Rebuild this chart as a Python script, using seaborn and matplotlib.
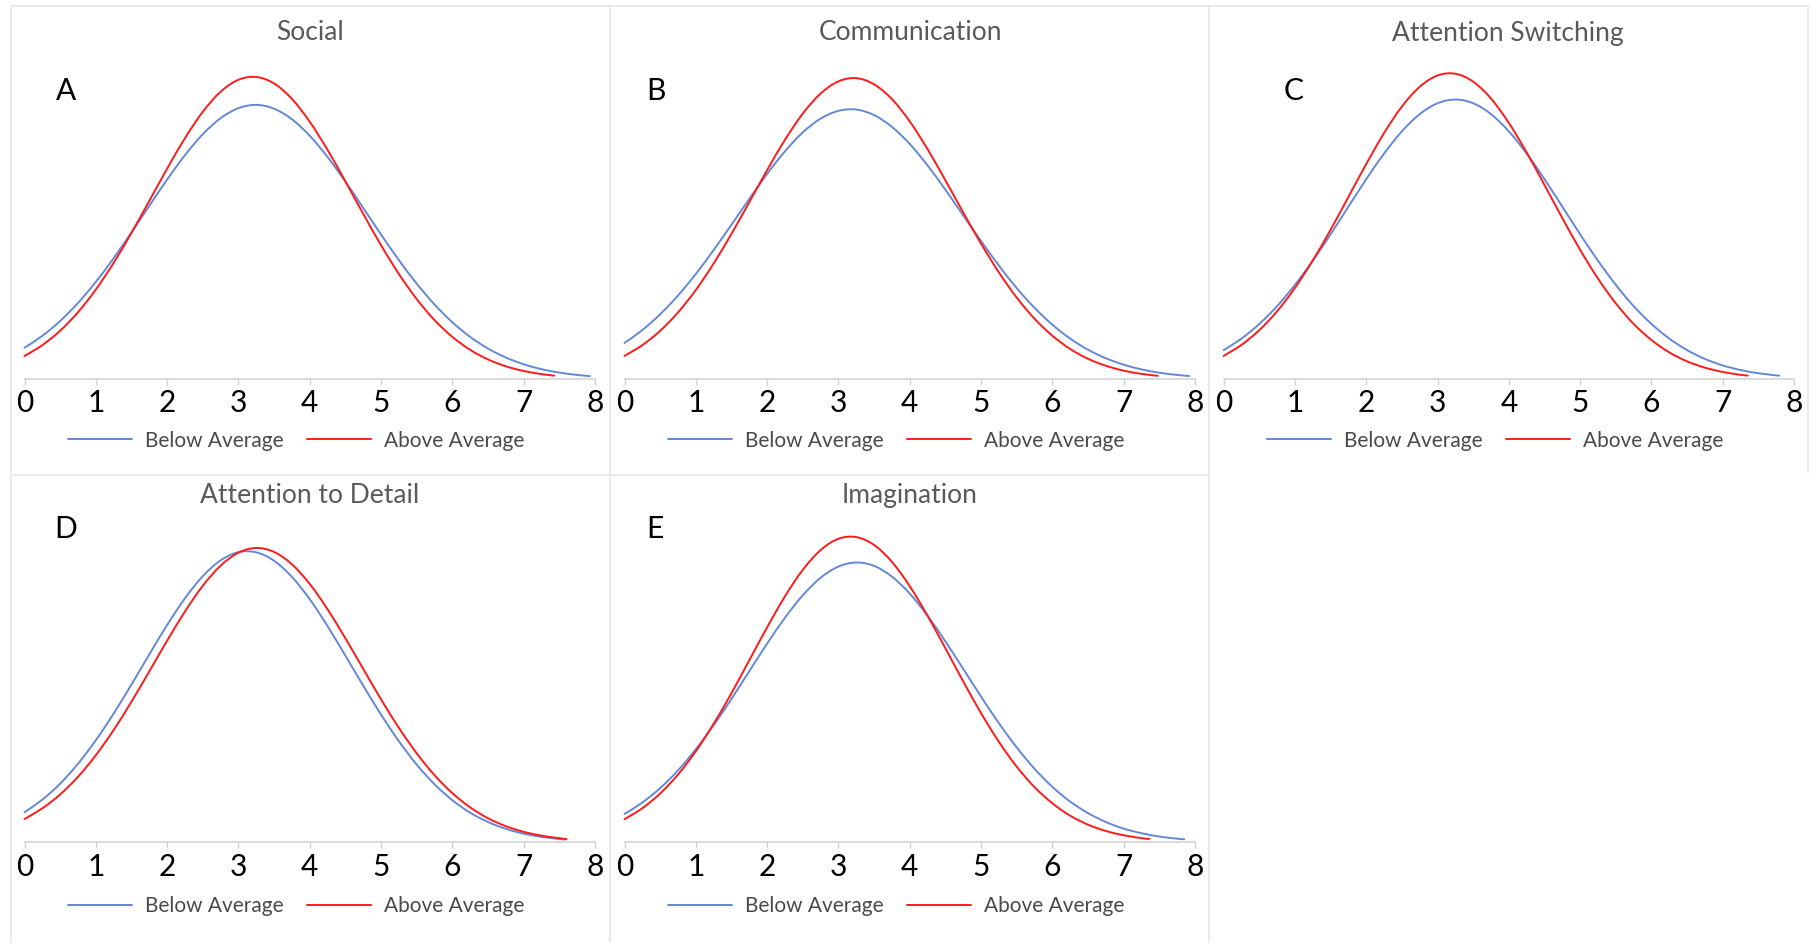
import numpy as np
import pandas as pd
import matplotlib
matplotlib.use("Agg")
import matplotlib.pyplot as plt
import seaborn as sns
from matplotlib.lines import Line2D
from matplotlib.path import Path
from matplotlib.patches import PathPatch

# ---------------- data ----------------
TITLES = ["Social", "Communication", "Attention Switching", "Attention to Detail", "Imagination"]
LETTERS = ["A", "B", "C", "D", "E"]
SERIES = ["Below Average", "Above Average"]
X_TICKS = [0, 1, 2, 3, 4, 5, 6, 7, 8]

GRID = [0.0, 0.25, 0.5, 0.75, 1.0, 1.25, 1.5, 1.75, 2.0, 2.25, 2.5, 2.75, 3.0, 3.25,
        3.5, 3.75, 4.0, 4.25, 4.5, 4.75, 5.0, 5.25, 5.5, 5.75, 6.0, 6.25, 6.5, 6.75,
        7.0, 7.25, 7.5, 7.75]
X_END_BELOW = [7.93, 7.92, 7.79, 7.58, 7.85]
X_END_ABOVE = [7.43, 7.48, 7.35, 7.60, 7.36]

SOCIAL_BELOW = [0.0293, 0.0404, 0.0543, 0.0712, 0.0909, 0.1131, 0.1372, 0.1621, 0.1867, 0.2095,
                0.2291, 0.2441, 0.2535, 0.2566, 0.2530, 0.2431, 0.2277, 0.2078, 0.1847, 0.1601,
                0.1352, 0.1113, 0.0892, 0.0697, 0.0531, 0.0394, 0.0285, 0.0201, 0.0138, 0.0092,
                0.0060, 0.0038, 0.0027]
SOCIAL_ABOVE = [0.0215, 0.0317, 0.0452, 0.0625, 0.0837, 0.1087, 0.1368, 0.1667, 0.1969, 0.2254,
                0.2501, 0.2689, 0.2801, 0.2827, 0.2766, 0.2622, 0.2408, 0.2144, 0.1850, 0.1546,
                0.1252, 0.0983, 0.0748, 0.0551, 0.0394, 0.0273, 0.0183, 0.0119, 0.0075, 0.0046,
                0.0031]
COMM_BELOW = [0.0337, 0.0458, 0.0606, 0.0781, 0.0983, 0.1207, 0.1444, 0.1686, 0.1920, 0.2131,
              0.2308, 0.2437, 0.2510, 0.2522, 0.2470, 0.2360, 0.2200, 0.1999, 0.1772, 0.1531,
              0.1291, 0.1062, 0.0851, 0.0666, 0.0508, 0.0378, 0.0274, 0.0194, 0.0134, 0.0090,
              0.0059, 0.0038, 0.0028]
COMM_ABOVE = [0.0216, 0.0317, 0.0451, 0.0623, 0.0833, 0.1081, 0.1359, 0.1655, 0.1955, 0.2239,
              0.2484, 0.2672, 0.2786, 0.2816, 0.2758, 0.2620, 0.2411, 0.2151, 0.1860, 0.1559,
              0.1267, 0.0998, 0.0762, 0.0564, 0.0405, 0.0281, 0.0189, 0.0124, 0.0078, 0.0048,
              0.0030]
SWITCH_BELOW = [0.0270, 0.0378, 0.0515, 0.0682, 0.0881, 0.1107, 0.1354, 0.1613, 0.1870, 0.2110,
                0.2318, 0.2479, 0.2581, 0.2616, 0.2581, 0.2479, 0.2318, 0.2110, 0.1870, 0.1613,
                0.1354, 0.1107, 0.0881, 0.0682, 0.0515, 0.0378, 0.0270, 0.0188, 0.0127, 0.0084,
                0.0054, 0.0031]
SWITCH_ABOVE = [0.0216, 0.0319, 0.0457, 0.0634, 0.0852, 0.1109, 0.1396, 0.1704, 0.2012, 0.2302,
                0.2550, 0.2735, 0.2841, 0.2857, 0.2783, 0.2625, 0.2397, 0.2120, 0.1816, 0.1506,
                0.1209, 0.0940, 0.0708, 0.0516, 0.0365, 0.0249, 0.0165, 0.0106, 0.0066, 0.0039,
                0.0032]
DETAIL_BELOW = [0.0281, 0.0399, 0.0549, 0.0735, 0.0955, 0.1205, 0.1477, 0.1759, 0.2034, 0.2284,
                0.2491, 0.2639, 0.2716, 0.2714, 0.2635, 0.2484, 0.2275, 0.2023, 0.1747, 0.1466,
                0.1195, 0.0946, 0.0727, 0.0543, 0.0394, 0.0277, 0.0190, 0.0126, 0.0081, 0.0051,
                0.0031, 0.0026]
DETAIL_ABOVE = [0.0218, 0.0318, 0.0448, 0.0613, 0.0815, 0.1051, 0.1316, 0.1600, 0.1887, 0.2160,
                0.2401, 0.2589, 0.2711, 0.2755, 0.2718, 0.2602, 0.2418, 0.2181, 0.1909, 0.1623,
                0.1338, 0.1071, 0.0833, 0.0628, 0.0460, 0.0327, 0.0225, 0.0151, 0.0098, 0.0062,
                0.0038, 0.0031]
IMAG_BELOW = [0.0265, 0.0372, 0.0507, 0.0673, 0.0871, 0.1096, 0.1343, 0.1602, 0.1860, 0.2102,
              0.2312, 0.2476, 0.2581, 0.2619, 0.2587, 0.2487, 0.2328, 0.2120, 0.1880, 0.1623,
              0.1364, 0.1115, 0.0888, 0.0688, 0.0519, 0.0381, 0.0273, 0.0190, 0.0128, 0.0085,
              0.0054, 0.0034, 0.0028]
IMAG_ABOVE = [0.0216, 0.0319, 0.0457, 0.0634, 0.0852, 0.1109, 0.1396, 0.1704, 0.2012, 0.2302,
              0.2550, 0.2735, 0.2841, 0.2857, 0.2783, 0.2625, 0.2397, 0.2120, 0.1816, 0.1506,
              0.1209, 0.0940, 0.0708, 0.0516, 0.0365, 0.0249, 0.0165, 0.0106, 0.0066, 0.0039,
              0.0031]

BELOW = [SOCIAL_BELOW, COMM_BELOW, SWITCH_BELOW, DETAIL_BELOW, IMAG_BELOW]
ABOVE = [SOCIAL_ABOVE, COMM_ABOVE, SWITCH_ABOVE, DETAIL_ABOVE, IMAG_ABOVE]

# ---------------- styling ----------------
sns.set_theme(style="white")
plt.rcParams["font.family"] = ["Lato", "DejaVu Sans"]

COLORS = {"Below Average": "#6388d8", "Above Average": "#ff1a1a"}
LW = 1.4
W, H = 1818, 946
fig = plt.figure(figsize=(W / 100, H / 100), dpi=100)
fig.patch.set_facecolor("white")

AX_LEFT = [24.5, 624.5, 1223.6, 24.5, 624.5]
AX_BASE = [379.0, 379.0, 379.0, 842.3, 842.3]
AX_W = 570.5
AX_H = 320.5
TITLE_X = [309.6, 910.0, 1508.0, 310.0, 910.0]
TITLE_Y = [33.0, 33.0, 33.0, 495.5, 495.5]
LETTER_X = [66.0, 656.0, 1294.0, 66.0, 655.0]
LETTER_Y = [90.5, 90.5, 90.5, 529.5, 529.5]
LEG_Y = [-0.192, -0.192, -0.192, -0.200, -0.200]

# panel borders
BORDER = "#e6e6e6"
def fline(x0, y0, x1, y1):
    fig.add_artist(Line2D([x0 / W, x1 / W], [1 - y0 / H, 1 - y1 / H],
                          color=BORDER, lw=1.2, transform=fig.transFigure))
fline(11, 6, 1808, 6)
fline(11, 6, 11, 472)
fline(11, 475, 11, 942)
fline(610, 6, 610, 942)
fline(1209, 6, 1209, 942)
fline(1808, 6, 1808, 472)
fline(11, 475, 1209, 475)


def smooth_line(ax, line):
    """Redraw a seaborn line as a smoothed (Excel-style) Bezier through its own data points."""
    pts = np.column_stack([line.get_xdata(), line.get_ydata()]).astype(float)
    n = len(pts)
    ext = np.vstack([pts[0], pts, pts[-1]])
    verts = [tuple(pts[0])]
    codes = [Path.MOVETO]
    for k in range(n - 1):
        p_prev, p0, p1, p_next = ext[k], ext[k + 1], ext[k + 2], ext[k + 3]
        c1 = p0 + (p1 - p_prev) / 6.0
        c2 = p1 - (p_next - p0) / 6.0
        verts += [tuple(c1), tuple(c2), tuple(p1)]
        codes += [Path.CURVE4] * 3
    patch = PathPatch(Path(verts, codes), facecolor="none", edgecolor=line.get_color(),
                      lw=line.get_linewidth(), capstyle="round", joinstyle="round",
                      transform=ax.transData, clip_on=False)
    ax.add_patch(patch)
    line.set_visible(False)


for i in range(5):
    ax = fig.add_axes([AX_LEFT[i] / W, 1 - AX_BASE[i] / H, AX_W / W, AX_H / H])
    xb = GRID[:len(BELOW[i]) - 1] + [X_END_BELOW[i]]
    xa = GRID[:len(ABOVE[i]) - 1] + [X_END_ABOVE[i]]
    df = pd.concat([
        pd.DataFrame({"x": xb, "y": BELOW[i], "group": SERIES[0]}),
        pd.DataFrame({"x": xa, "y": ABOVE[i], "group": SERIES[1]}),
    ])
    sns.lineplot(data=df, x="x", y="y", hue="group", palette=COLORS, ax=ax,
                 linewidth=LW, estimator=None, legend=False)
    for ln in list(ax.lines):
        smooth_line(ax, ln)
    ax.set_xlim(0, 8)
    ax.set_ylim(0, 0.3)
    ax.set_xlabel("")
    ax.set_ylabel("")
    ax.set_yticks([])
    ax.set_xticks(X_TICKS)
    ax.set_xticklabels([str(t) for t in X_TICKS], fontsize=21.5, color="black")
    ax.tick_params(axis="x", direction="out", length=4, width=1, color="#d0d0d0",
                   pad=3.5, bottom=True)
    for s in ["top", "left", "right"]:
        ax.spines[s].set_visible(False)
    ax.spines["bottom"].set_color("#d4d4d4")
    ax.spines["bottom"].set_linewidth(1.2)
    ax.patch.set_alpha(0)

    handles = [Line2D([], [], color=COLORS[s], lw=LW) for s in SERIES]
    ax.legend(handles, SERIES, loc="center", bbox_to_anchor=(0.476, LEG_Y[i]),
              ncol=2, frameon=False, fontsize=15, handlelength=3.07,
              handletextpad=0.62, columnspacing=1.13, labelcolor="#4a4a4a")

    fig.text(TITLE_X[i] / W, 1 - TITLE_Y[i] / H, TITLES[i], ha="center", va="center",
             fontsize=19, color="#595959")
    fig.text(LETTER_X[i] / W, 1 - LETTER_Y[i] / H, LETTERS[i], ha="center", va="center",
             fontsize=21.5, color="black")

fig.savefig("out.png", dpi=100, facecolor="white")
